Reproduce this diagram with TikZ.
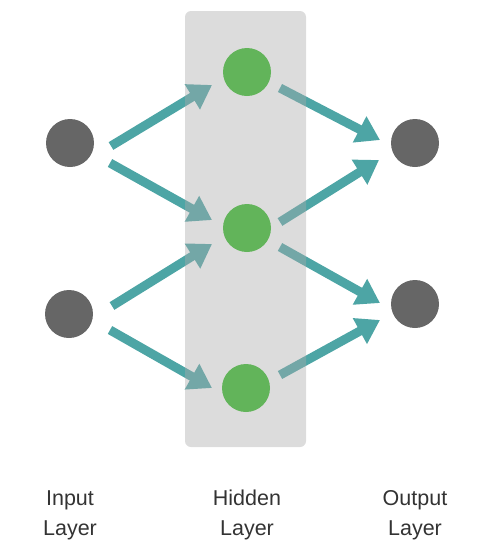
\documentclass[tikz,border=0pt]{standalone}
\usepackage{fontspec}
\setmainfont{Liberation Sans}
\usepackage{tikz}
\usepackage{xcolor}
\usetikzlibrary{positioning, arrows.meta, calc}
\definecolor{cUnit}   {HTML}{666666}
\definecolor{cHidden} {HTML}{62B45A}
\definecolor{cEdge}   {HTML}{4DA5A5}
\definecolor{cPanel}  {HTML}{AAAAAA}
\definecolor{cText}   {HTML}{333333}

\begin{document}
\begin{tikzpicture}[x=1pt, y=-1pt,
    unit/.style={circle, fill=cUnit, minimum size=48pt, inner sep=0pt},
    hunit/.style={unit, fill=cHidden},
    edge/.style={draw=cEdge, line width=9pt,
                 -{Triangle[length=23pt 0, width=28pt 0]}},
    layerlabel/.style={font=\fontsize{21.5}{30}\selectfont, text=cText,
                       align=center}]
        \useasboundingbox (0,0) rectangle (500,558);
        % units
        \node[unit]  (in1)  at (70,143) {};
        \node[unit]  (in2)  at (69,314) {};
        \node[unit]  (out1) at (415,143) {};
        \node[unit]  (out2) at (415,304) {};
        \coordinate (hid1) at (247,72);
        \coordinate (hid2) at (247,228);
        \coordinate (hid3) at (246,388);
        % edges into the hidden layer
        \draw[edge] ([shift={(41,3)}]in1.center)   -- ([shift={(-35,13)}]hid1);
        \draw[edge] ([shift={(40,20)}]in1.center)  -- ([shift={(-35,-8)}]hid2);
        \draw[edge] ([shift={(43,-8)}]in2.center)  -- ([shift={(-35,16)}]hid2);
        \draw[edge] ([shift={(41,16)}]in2.center)  -- ([shift={(-34,0)}]hid3);
        % edges into the output layer
        \draw[edge] ([shift={(33,16)}]hid1)  -- ([shift={(-35,-3)}]out1.center);
        \draw[edge] ([shift={(33,-6)}]hid2)  -- ([shift={(-36,17)}]out1.center);
        \draw[edge] ([shift={(33,19)}]hid2)  -- ([shift={(-35,-1)}]out2.center);
        \draw[edge] ([shift={(34,-13)}]hid3) -- ([shift={(-35,16)}]out2.center);
        % hidden layer panel
        \fill[cPanel, opacity=0.41, rounded corners=6pt]
              (185,11) rectangle (306,447);
        \foreach \h in {hid1,hid2,hid3}{
          \node[hunit] (\h-unit) at (\h) {};
        }
        % labels
        \node[layerlabel] (lblIn)  at (70,515)  {Input\\Layer};
        \node[layerlabel] (lblHid) at (247,515) {Hidden\\Layer};
        \node[layerlabel] (lblOut) at (415,515) {Output\\Layer};
      \end{tikzpicture}
\end{document}
